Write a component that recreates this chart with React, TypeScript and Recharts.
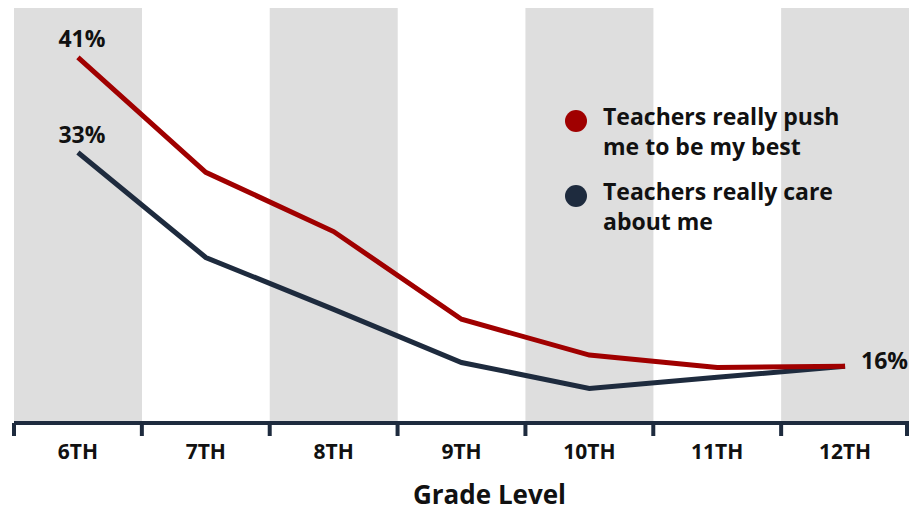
import React from 'react';
import { ComposedChart, Bar, Line, XAxis, YAxis, Legend, LabelList } from 'recharts';

const grades = ['6TH', '7TH', '8TH', '9TH', '10TH', '11TH', '12TH'];
const pushMe = [41, 31.7, 26.9, 19.8, 16.9, 15.9, 16];
const careMe = [33.3, 24.8, 20.6, 16.3, 14.2, 15.1, 16];
const shaded = [true, false, true, false, true, false, true];
const yDomain: [number, number] = [11.4, 45];

const seriesInfo = [
  { key: 'push', name: ['Teachers really push', 'me to be my best'], color: '#a00000' },
  { key: 'care', name: ['Teachers really care', 'about me'], color: '#1e2b3e' },
];

const data = grades.map((g, i) => ({
  grade: g,
  push: pushMe[i],
  care: careMe[i],
  band: shaded[i] ? yDomain[1] : null,
}));

const FONT = '"Open Sans", sans-serif';
const NAVY = '#1e2b3e';

function GradeTick(props: any) {
  const { x, y, payload, index } = props;
  const half = payload && payload.offset ? payload.offset : (909 - 14) / grades.length / 2;
  const last = index === grades.length - 1;
  return (
    <g>
      <line x1={x - half} y1={y} x2={x - half} y2={y + 13} stroke={NAVY} strokeWidth={4} />
      {last && <line x1={x + half - 2} y1={y} x2={x + half - 2} y2={y + 13} stroke={NAVY} strokeWidth={4} />}
      <text x={x} y={y + 36} textAnchor="middle" fontFamily={FONT} fontWeight={700} fontSize={21} fill="#111">
        {payload.value}
      </text>
    </g>
  );
}

function renderLegend() {
  return (
    <div style={{ fontFamily: FONT, fontWeight: 700, fontSize: 23, lineHeight: '30px', color: '#111', textAlign: 'left' }}>
      {seriesInfo.map((s) => (
        <div key={s.key} style={{ display: 'flex', alignItems: 'flex-start', marginBottom: 15 }}>
          <div
            style={{
              width: 22,
              height: 22,
              borderRadius: '50%',
              background: s.color,
              marginTop: 9,
              marginRight: 16,
              flexShrink: 0,
            }}
          />
          <div>
            {s.name.map((line) => (
              <div key={line}>{line}</div>
            ))}
          </div>
        </div>
      ))}
    </div>
  );
}

function edgeLabel(which: 'first' | 'last') {
  return (props: any) => {
    const { x, y, value, index } = props;
    const fmt = `${Math.round(value)}%`;
    if (which === 'first' && index === 0) {
      return (
        <text x={x + 4} y={y - 10} textAnchor="middle" fontFamily={FONT} fontWeight={700} fontSize={23} fill="#111">
          {fmt}
        </text>
      );
    }
    if (which === 'last' && index === grades.length - 1) {
      return (
        <text x={x + 16} y={y + 3} textAnchor="start" fontFamily={FONT} fontWeight={700} fontSize={23} fill="#111">
          {fmt}
        </text>
      );
    }
    return null;
  };
}

export default function App() {
  return (
    <div style={{ position: 'absolute', left: 0, top: 0, width: 909, height: 512, background: '#fff' }}>
      <ComposedChart
        width={909}
        height={512}
        data={data}
        margin={{ top: 8, right: 0, left: 14, bottom: 0 }}
        barCategoryGap={0}
        barGap={0}
      >
        <XAxis
          dataKey="grade"
          height={89}
          axisLine={{ stroke: NAVY, strokeWidth: 4 }}
          tickLine={false}
          tickSize={0}
          tickMargin={0}
          interval={0}
          tick={<GradeTick />}
          label={{
            content: (p: any) => {
              const vb = p.viewBox;
              return (
                <text
                  x={vb.x + vb.width / 2 + 28}
                  y={vb.y + 81}
                  textAnchor="middle"
                  fontFamily={FONT}
                  fontWeight={700}
                  fontSize={26}
                  fill="#111"
                >
                  Grade Level
                </text>
              );
            },
          }}
        />
        <YAxis hide type="number" domain={yDomain} allowDataOverflow />
        <Bar dataKey="band" fill="#dedede" isAnimationActive={false} legendType="none" />
        <Line
          type="linear"
          dataKey="care"
          stroke={NAVY}
          strokeWidth={5}
          dot={false}
          activeDot={false}
          isAnimationActive={false}
        >
          <LabelList dataKey="care" content={edgeLabel('first')} />
        </Line>
        <Line
          type="linear"
          dataKey="push"
          stroke="#a00000"
          strokeWidth={5}
          dot={false}
          activeDot={false}
          isAnimationActive={false}
        >
          <LabelList dataKey="push" content={edgeLabel('first')} />
          <LabelList dataKey="push" content={edgeLabel('last')} />
        </Line>
        <Legend
          layout="horizontal"
          verticalAlign="middle"
          align="center"
          content={renderLegend}
          wrapperStyle={{ position: 'absolute', left: 565, top: 101, width: 320 }}
        />
      </ComposedChart>
    </div>
  );
}
